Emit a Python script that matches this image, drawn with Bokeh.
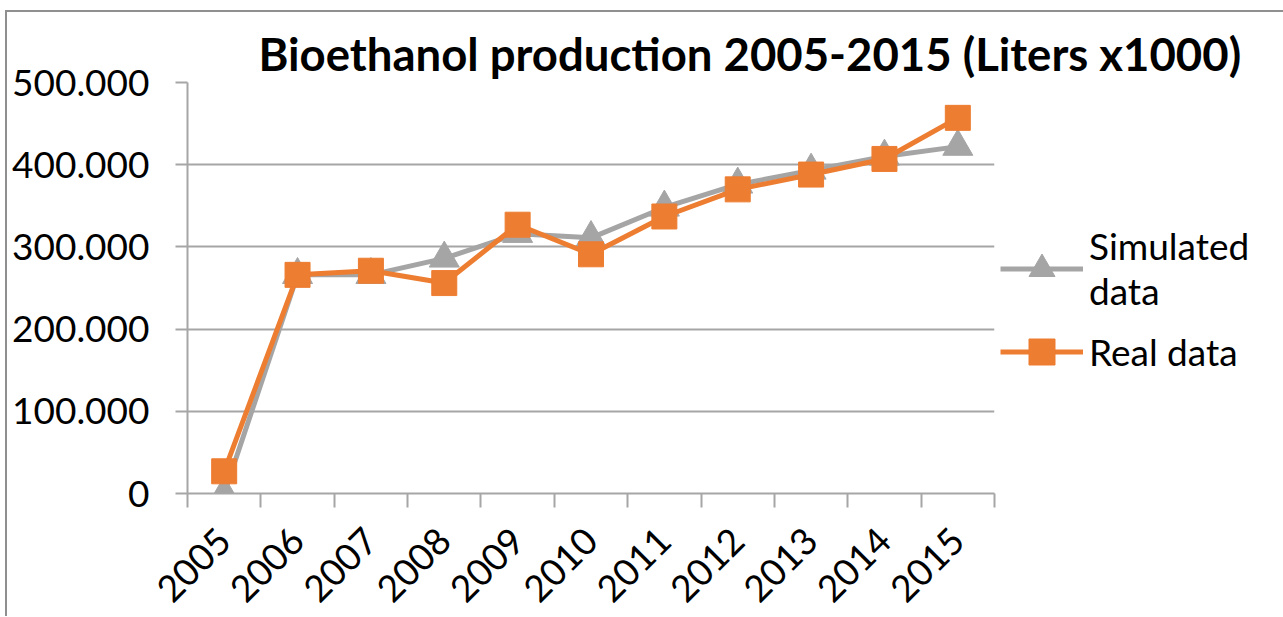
import math
from bokeh.plotting import figure
from bokeh.models import Range1d, FixedTicker, Legend, LegendItem
from bokeh.embed import file_html
from bokeh.resources import INLINE

years = ["2005", "2006", "2007", "2008", "2009", "2010", "2011", "2012", "2013", "2014", "2015"]
simulated = [0, 266000, 266000, 286000, 316000, 311000, 348000, 376000, 393000, 410000, 422000]
real = [27000, 266000, 271000, 256000, 327000, 291000, 337000, 370000, 388000, 407000, 457000]
y_ticks = [0, 100000, 200000, 300000, 400000, 500000]
y_labels = ["0", "100.000", "200.000", "300.000", "400.000", "500.000"]
series_names = ["Simulated\ndata", "Real data"]

FONT = "Lato"
GRID = "#a6a6a6"
GRAY = "#a5a5a5"
ORANGE = "#ed7d31"

xs = list(range(len(years)))

p = figure(frame_width=807, frame_height=411, output_backend="svg", toolbar_location=None,
           x_range=Range1d(-0.5, len(years) - 0.5), y_range=Range1d(0, 500000),
           min_border_left=187, min_border_right=281, min_border_top=82, min_border_bottom=122)
p.styles = {"background-color": "white",
            "background-image": "linear-gradient(#8f8f8f, #8f8f8f), linear-gradient(#8f8f8f, #8f8f8f)",
            "background-size": "100% 2px, 2px 100%",
            "background-position": "5px 10px, 5px 10px",
            "background-repeat": "no-repeat"}
p.outline_line_color = None
p.background_fill_color = "white"
p.border_fill_alpha = 0

p.title.text = "Bioethanol production 2005-2015 (Liters x1000)"
p.title.text_font = FONT
p.title.text_font_style = "bold"
p.title.text_font_size = "45.5px"
p.title.align = "left"
p.title.offset = 71
p.title.standoff = 3
p.title.text_color = "black"
p.title.background_fill_alpha = 0
p.title.border_line_alpha = 0

# y axis
p.yaxis.ticker = FixedTicker(ticks=y_ticks)
p.yaxis.major_label_overrides = dict(zip(y_ticks, y_labels))
p.yaxis.major_label_text_font = FONT
p.yaxis.major_label_text_font_size = "37px"
p.yaxis.major_label_text_color = "black"
p.yaxis.major_tick_out = 12
p.yaxis.major_tick_in = 0
p.yaxis.minor_tick_out = 0
p.yaxis.minor_tick_in = 0
p.yaxis.axis_line_color = GRID
p.yaxis.axis_line_width = 2
p.yaxis.major_tick_line_color = GRID
p.yaxis.major_tick_line_width = 2
p.yaxis.major_label_standoff = 26

# x axis
p.xaxis.ticker = FixedTicker(ticks=xs, minor_ticks=[i - 0.5 for i in range(len(years) + 1)])
p.xaxis.major_label_overrides = dict(zip(xs, years))
p.xaxis.major_label_orientation = math.pi / 4
p.xaxis.major_label_text_font = FONT
p.xaxis.major_label_text_font_size = "37px"
p.xaxis.major_label_text_color = "black"
p.xaxis.major_tick_out = 0
p.xaxis.major_tick_in = 0
p.xaxis.minor_tick_out = 14
p.xaxis.minor_tick_in = 0
p.xaxis.minor_tick_line_color = GRID
p.xaxis.minor_tick_line_width = 2
p.xaxis.axis_line_color = GRID
p.xaxis.axis_line_width = 2
p.xaxis.major_label_standoff = 27

p.xgrid.grid_line_color = None
p.ygrid.grid_line_color = GRID
p.ygrid.grid_line_width = 2

l1 = p.line(xs, simulated, line_color=GRAY, line_width=5)
m1 = p.scatter(xs, simulated, marker="triangle", size=30, fill_color=GRAY, line_color=GRAY)
l2 = p.line(xs, real, line_color=ORANGE, line_width=5)
m2 = p.scatter(xs, real, marker="square", size=25, fill_color=ORANGE, line_color=ORANGE)

legend = Legend(items=[LegendItem(label=series_names[0], renderers=[l1, m1]),
                       LegendItem(label=series_names[1], renderers=[l2, m2])],
                location=(6, 109), orientation="vertical")
legend.label_text_font = FONT
legend.label_text_font_size = "37px"
legend.label_text_color = "black"
legend.label_text_line_height = 1.45
legend.glyph_width = 83
legend.glyph_height = 65
legend.label_standoff = 6
legend.spacing = 6
legend.padding = 0
legend.margin = 0
legend.border_line_color = None
legend.background_fill_alpha = 0
p.add_layout(legend, "right")

open("out.html", "w").write(file_html(p, INLINE))
